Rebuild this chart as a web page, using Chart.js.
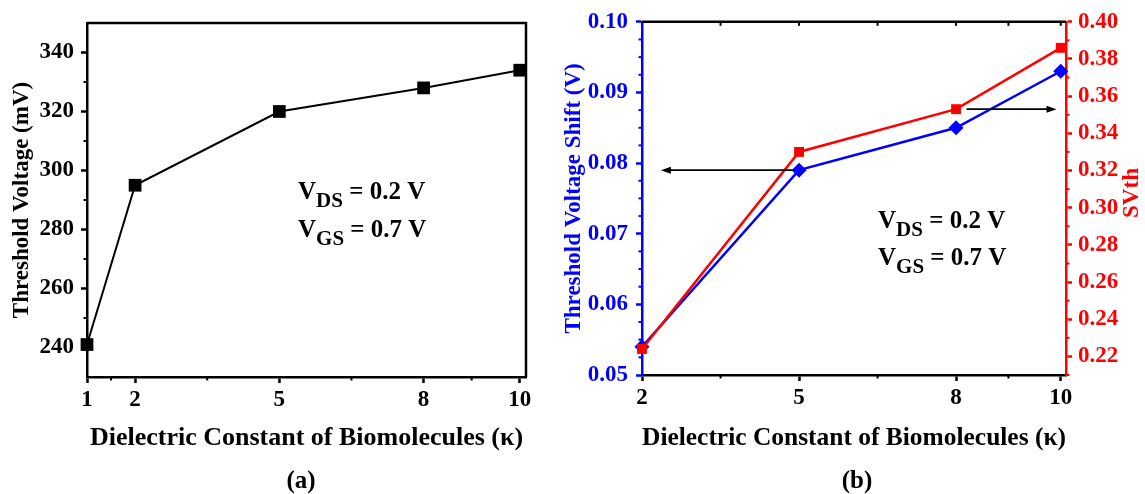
<!DOCTYPE html>
<html><head><meta charset="utf-8">
<script src="https://cdn.jsdelivr.net/npm/chart.js@4.4.1/dist/chart.umd.min.js"></script>
<style>
html,body{margin:0;padding:0;background:#fff;}
#wrap{position:relative;width:1145px;height:494px;overflow:hidden;background:#fff;}
#ca{position:absolute;left:0;top:0;}
#cb{position:absolute;left:560px;top:0;}
</style></head><body>
<div id="wrap"><canvas id="ca" width="560" height="494"></canvas><canvas id="cb" width="585" height="494"></canvas></div>
<script>
// ---- Panel (a) data ----
const kappaA = [1, 2, 5, 8, 10];
const vthA = [241, 295, 320, 328, 334];
const xTicksA = [1, 2, 5, 8, 10];
const xMinorA = [1.5, 3.5, 6.5, 9];
const yTicksA = [240, 260, 280, 300, 320, 340];
const yMinorA = [250, 270, 290, 310, 330];

// ---- Panel (b) data ----
const kappaB = [2, 5, 8, 10];
const shiftB = [0.054, 0.079, 0.085, 0.093];
const svthB = [0.224, 0.330, 0.353, 0.386];
const xTicksB = [2, 5, 8, 10];
const xMinorB = [3.5, 6.5, 9];
const topTicksB = [3.5, 5, 6.5, 8, 9, 10];
const yTicksB = [0.05, 0.06, 0.07, 0.08, 0.09, 0.10];
const yMinorB = [0.0525, 0.055, 0.0575, 0.0625, 0.065, 0.0675, 0.0725, 0.075, 0.0775, 0.0825, 0.085, 0.0875, 0.0925, 0.095, 0.0975];
const y1TicksB = [0.22, 0.24, 0.26, 0.28, 0.30, 0.32, 0.34, 0.36, 0.38, 0.40];
const y1MinorB = [0.21, 0.23, 0.25, 0.27, 0.29, 0.31, 0.33, 0.35, 0.37, 0.39];

const xTitle = 'Dielectric Constant of Biomolecules (\u03BA)';
const FAM = '"Liberation Serif", "Times New Roman", serif';
const BLUE = '#0000ff', RED = '#ff0000', BLACK = '#000000';

function tickFont(){ return {family: FAM, size: 23, weight: 'bold'}; }
function setTicks(arr){ return s => { s.ticks = arr.map(v => ({value: v})); }; }

function drawMinor(chart, id, values, len, color) {
  const s = chart.scales[id], ctx = chart.ctx, a = chart.chartArea;
  ctx.save(); ctx.strokeStyle = color; ctx.lineWidth = 2;
  values.forEach(v => {
    const p = s.getPixelForValue(v);
    ctx.beginPath();
    if (s.isHorizontal()) { ctx.moveTo(p, a.bottom); ctx.lineTo(p, a.bottom + len); }
    else if (s.position === 'left') { ctx.moveTo(a.left, p); ctx.lineTo(a.left - len, p); }
    else { ctx.moveTo(a.right, p); ctx.lineTo(a.right + len, p); }
    ctx.stroke();
  });
  ctx.restore();
}
function drawSub(ctx, x, y, main, sub, rest, size) {
  ctx.save(); ctx.fillStyle = BLACK; ctx.textBaseline = 'alphabetic'; ctx.textAlign = 'left';
  ctx.font = 'bold ' + size + 'px ' + FAM; ctx.fillText(main, x, y);
  let w = ctx.measureText(main).width;
  ctx.font = 'bold ' + Math.round(size * 0.82) + 'px ' + FAM; ctx.fillText(sub, x + w, y + size * 0.3);
  w += ctx.measureText(sub).width;
  ctx.font = 'bold ' + size + 'px ' + FAM; ctx.fillText(rest, x + w, y);
  ctx.restore();
}
function drawArrow(chart, xs, ys, x0, x1, yv) {
  const ctx = chart.ctx, sx = chart.scales[xs], sy = chart.scales[ys];
  const p0 = sx.getPixelForValue(x0), p1 = sx.getPixelForValue(x1), py = sy.getPixelForValue(yv);
  const dir = Math.sign(p1 - p0);
  ctx.save(); ctx.strokeStyle = BLACK; ctx.fillStyle = BLACK; ctx.lineWidth = 1.6;
  ctx.beginPath(); ctx.moveTo(p0, py); ctx.lineTo(p1 - dir * 6, py); ctx.stroke();
  ctx.beginPath(); ctx.moveTo(p1, py); ctx.lineTo(p1 - dir * 10, py - 3.5); ctx.lineTo(p1 - dir * 10, py + 3.5); ctx.closePath(); ctx.fill();
  ctx.restore();
}
function centerText(ctx, txt, x, y, size) {
  ctx.save(); ctx.fillStyle = BLACK; ctx.font = 'bold ' + size + 'px ' + FAM;
  ctx.textAlign = 'center'; ctx.textBaseline = 'middle'; ctx.fillText(txt, x, y); ctx.restore();
}

const axisGrid = c => ({display: true, drawOnChartArea: false, drawTicks: true, tickLength: 6, tickWidth: 2.5, color: c, tickColor: c});
const axisBorder = c => ({display: true, width: 2.5, color: c});

// ---------- Chart (a) ----------
const plugA = {
  id: 'plugA',
  afterDraw(chart) {
    const ctx = chart.ctx, a = chart.chartArea;
    ctx.save(); ctx.strokeStyle = BLACK; ctx.lineWidth = 2.5;
    ctx.beginPath(); ctx.moveTo(a.left, a.top); ctx.lineTo(a.right, a.top); ctx.lineTo(a.right, a.bottom); ctx.stroke();
    ctx.restore();
    drawMinor(chart, 'x', xMinorA, 3.5, BLACK);
    drawMinor(chart, 'y', yMinorA, 3.5, BLACK);
    drawSub(ctx, 298, 199, 'V', 'DS', ' = 0.2 V', 25);
    drawSub(ctx, 298, 237, 'V', 'GS', ' = 0.7 V', 25);
    centerText(ctx, '(a)', 301, 482, 25);
  }
};
new Chart(document.getElementById('ca'), {
  type: 'line',
  data: { datasets: [{
    data: kappaA.map((k, i) => ({x: k, y: vthA[i]})),
    borderColor: BLACK, backgroundColor: BLACK, borderWidth: 2,
    pointStyle: 'rect', pointRadius: 9, pointBorderWidth: 0, tension: 0, clip: false
  }]},
  options: {
    responsive: false, animation: false, events: [],
    layout: {padding: {left: 0, right: 34, top: 23, bottom: 0}},
    plugins: {legend: {display: false}, tooltip: {enabled: false}, title: {display: false}},
    scales: {
      x: {type: 'linear', min: 1, max: 10.13,
        afterBuildTicks: setTicks(xTicksA),
        afterFit: s => { s.height = 117; },
        ticks: {font: tickFont(), color: BLACK, padding: 3, autoSkip: false, maxRotation: 0},
        grid: axisGrid(BLACK), border: axisBorder(BLACK),
        title: {display: true, text: xTitle, color: BLACK, font: {family: FAM, size: 26, weight: 'bold'}, padding: {top: 0, bottom: 40}}
      },
      y: {type: 'linear', min: 230, max: 350,
        afterBuildTicks: setTicks(yTicksA),
        afterFit: s => { s.width = 87; },
        ticks: {font: tickFont(), color: BLACK, padding: 7},
        grid: axisGrid(BLACK), border: axisBorder(BLACK),
        title: {display: true, text: 'Threshold Voltage (mV)', color: BLACK, font: {family: FAM, size: 23, weight: 'bold'}, padding: {top: 8, bottom: 0}}
      }
    }
  },
  plugins: [plugA]
});

// ---------- Chart (b) ----------
const plugB = {
  id: 'plugB',
  afterDraw(chart) {
    const ctx = chart.ctx, a = chart.chartArea, sx = chart.scales.x;
    ctx.save(); ctx.strokeStyle = BLACK; ctx.lineWidth = 2.5;
    ctx.beginPath(); ctx.moveTo(a.left, a.top); ctx.lineTo(a.right, a.top); ctx.stroke();
    ctx.lineWidth = 2;
    topTicksB.forEach(v => { const p = sx.getPixelForValue(v); ctx.beginPath(); ctx.moveTo(p, a.top); ctx.lineTo(p, a.top + 4); ctx.stroke(); });
    ctx.restore();
    drawMinor(chart, 'x', xMinorB, 3.5, BLACK);
    drawMinor(chart, 'y', yMinorB, 3.5, BLUE);
    drawMinor(chart, 'y1', y1MinorB, 3.5, RED);
    drawArrow(chart, 'x', 'y', 4.88, 2.36, shiftB[1]);
    drawArrow(chart, 'x', 'y1', 8.2, 9.92, svthB[2]);
    drawSub(ctx, 318, 228, 'V', 'DS', ' = 0.2 V', 25);
    drawSub(ctx, 318, 265, 'V', 'GS', ' = 0.7 V', 25);
    centerText(ctx, '(b)', 297, 482, 25);
    ctx.save(); ctx.translate(572, 193); ctx.rotate(-Math.PI / 2);
    ctx.fillStyle = RED; ctx.font = 'bold 23px ' + FAM; ctx.textAlign = 'center'; ctx.textBaseline = 'middle';
    ctx.fillText('SVth', 0, 0); ctx.restore();
  }
};
new Chart(document.getElementById('cb'), {
  type: 'line',
  data: { datasets: [
    { data: kappaB.map((k, i) => ({x: k, y: svthB[i]})), yAxisID: 'y1',
      borderColor: RED, backgroundColor: RED, borderWidth: 2.5,
      pointStyle: 'rect', pointRadius: 7, pointBorderWidth: 0, tension: 0, clip: false },
    { data: kappaB.map((k, i) => ({x: k, y: shiftB[i]})), yAxisID: 'y',
      borderColor: BLUE, backgroundColor: BLUE, borderWidth: 2.5,
      pointStyle: 'rectRot', pointRadius: 7.5, pointBorderWidth: 0, tension: 0, clip: false }
  ]},
  options: {
    responsive: false, animation: false, events: [],
    layout: {padding: {left: 0, right: 0, top: 17, bottom: 0}},
    plugins: {legend: {display: false}, tooltip: {enabled: false}, title: {display: false}},
    scales: {
      x: {type: 'linear', min: 2, max: 10.1,
        afterBuildTicks: setTicks(xTicksB),
        afterFit: s => { s.height = 119; },
        ticks: {font: tickFont(), color: BLACK, padding: 3, autoSkip: false, maxRotation: 0},
        grid: axisGrid(BLACK), border: axisBorder(BLACK),
        title: {display: true, text: xTitle, color: BLACK, font: {family: FAM, size: 26, weight: 'bold'}, padding: {top: 0, bottom: 40}}
      },
      y: {type: 'linear', position: 'left', min: 0.05, max: 0.10,
        afterBuildTicks: setTicks(yTicksB),
        afterFit: s => { s.width = 82; },
        ticks: {font: tickFont(), color: BLUE, padding: 8, callback: v => v.toFixed(2)},
        grid: axisGrid(BLUE), border: axisBorder(BLUE),
        title: {display: true, text: 'Threshold Voltage Shift (V)', color: BLUE, font: {family: FAM, size: 23, weight: 'bold'}, padding: {top: 0, bottom: 0}}
      },
      y1: {type: 'linear', position: 'right', min: 0.21, max: 0.40,
        afterBuildTicks: setTicks(y1TicksB),
        afterFit: s => { s.width = 79; },
        ticks: {font: tickFont(), color: RED, padding: 6, callback: v => v.toFixed(2)},
        grid: axisGrid(RED), border: axisBorder(RED),
        title: {display: false}
      }
    }
  },
  plugins: [plugB]
});
</script>
</body></html>
